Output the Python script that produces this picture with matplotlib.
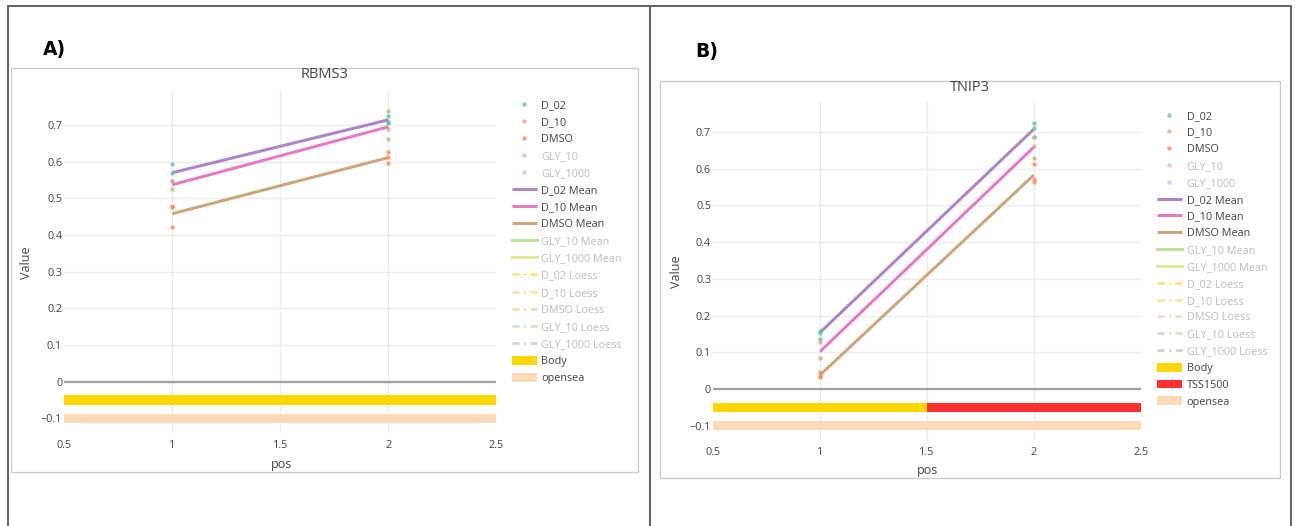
import matplotlib
matplotlib.use("Agg")
import matplotlib.pyplot as plt
from matplotlib.lines import Line2D
from matplotlib.patches import Patch, Rectangle

plt.rcParams["font.family"] = ["Open Sans", "DejaVu Sans"]

W, H = 1298, 526

pos = [1, 2]

# RBMS3: replicate beta values per position, and the group means
rbms3_d02 = [[0.593, 0.570, 0.547], [0.725, 0.708, 0.705]]
rbms3_d10 = [[0.548, 0.526], [0.739, 0.690, 0.661]]
rbms3_dmso = [[0.478, 0.475, 0.422], [0.625, 0.612, 0.596]]
rbms3_d02_mean = [0.570, 0.714]
rbms3_d10_mean = [0.537, 0.695]
rbms3_dmso_mean = [0.458, 0.611]

# TNIP3
tnip3_d02 = [[0.158, 0.153, 0.135], [0.726, 0.712, 0.687]]
tnip3_d10 = [[0.127, 0.084], [0.687, 0.662, 0.630]]
tnip3_dmso = [[0.047, 0.035, 0.032], [0.614, 0.572, 0.565]]
tnip3_d02_mean = [0.154, 0.708]
tnip3_d10_mean = [0.102, 0.659]
tnip3_dmso_mean = [0.038, 0.583]

# annotation tracks (name, start, end)
rbms3_regions = [("Body", 0.5, 2.5), ("opensea", 0.5, 2.5)]
tnip3_regions = [("Body", 0.5, 1.5), ("TSS1500", 1.5, 2.5), ("opensea", 0.5, 2.5)]

groups = ["D_02", "D_10", "DMSO"]
point_colors = {"D_02": "#66c2a5", "D_10": "#c9b48a", "DMSO": "#fc8d62"}
mean_colors = {"D_02": "#ac87c5", "D_10": "#e47cc0", "DMSO": "#c9a77f"}
region_colors = {"Body": "#ffd700", "TSS1500": "#ff3030", "opensea": "#ffdab9"}
region_rows = {"Body": -0.05, "TSS1500": -0.05, "opensea": -0.1}

# hidden traces only show up in the legend
hidden_points = [("GLY_10", "#f2c4d4"), ("GLY_1000", "#c9d3ea")]
hidden_means = [("GLY_10 Mean", "#bfe39a"), ("GLY_1000 Mean", "#e3e89a")]
hidden_loess = [("D_02 Loess", "#ffe680"), ("D_10 Loess", "#ffe2a6"),
                ("DMSO Loess", "#f2dcc4"), ("GLY_10 Loess", "#e4dbd0"),
                ("GLY_1000 Loess", "#d4d4d4")]

TXT = "#444444"
FADED = "#bdbdbd"
FS = 7.8

fig = plt.figure(figsize=(W / 100, H / 100), dpi=100)


def fx(x):
    return x / W


def fy(y):
    return 1 - y / H


def frame(x0, y0, x1, y1, color, lw):
    fig.add_artist(Rectangle((fx(x0), fy(y1)), (x1 - x0) / W, (y1 - y0) / H,
                             transform=fig.transFigure, fill=False,
                             edgecolor=color, lw=lw))


def panel(box, axes_px, ylim, title, title_y, tag, tag_xy, ylab_xy, xlab_xy,
          legend_xy, spacing, points, means, regions):
    frame(*box, color="#cccccc", lw=1.0)
    l, t, r, b = axes_px
    ax = fig.add_axes([fx(l), fy(b), (r - l) / W, (b - t) / H])

    for name, start, end in regions:
        ax.barh(region_rows[name], end - start, left=start, height=0.025,
                color=region_colors[name], zorder=2)
    ax.axhline(0, color="#a0a0a0", lw=1.6, zorder=2)

    handles, labels = [], []
    for g in groups:
        for p, vals in zip(pos, points[g]):
            ax.plot([p] * len(vals), vals, "o", ms=3.2, color=point_colors[g],
                    mec="none", alpha=0.8, zorder=4)
        handles.append(Line2D([], [], ls="none", marker="o", ms=3.2,
                              color=point_colors[g], mec="none", alpha=0.8))
        labels.append(g)
    for name, c in hidden_points:
        handles.append(Line2D([], [], ls="none", marker="o", ms=3.2,
                              color=c, mec="none"))
        labels.append(name)
    for g in groups:
        ln, = ax.plot(pos, means[g], color=mean_colors[g], lw=2.2,
                      solid_capstyle="butt", zorder=3)
        handles.append(ln)
        labels.append(g + " Mean")
    for name, c in hidden_means:
        handles.append(Line2D([], [], color=c, lw=2.2))
        labels.append(name)
    for name, c in hidden_loess:
        handles.append(Line2D([], [], color=c, lw=2.0,
                              ls=(0, (2.6, 1.6, 0.7, 1.6))))
        labels.append(name)
    seen = []
    for name, _, _ in regions:
        if name not in seen:
            seen.append(name)
            handles.append(Patch(facecolor=region_colors[name], edgecolor="none"))
            labels.append(name)

    ax.set_xlim(0.5, 2.5)
    ax.set_ylim(*ylim)
    ax.set_xticks([0.5, 1, 1.5, 2, 2.5])
    ax.set_xticklabels(["0.5", "1", "1.5", "2", "2.5"])
    ax.set_yticks([-0.1, 0, 0.1, 0.2, 0.3, 0.4, 0.5, 0.6, 0.7])
    ax.set_yticklabels(["\u22120.1", "0", "0.1", "0.2", "0.3", "0.4", "0.5", "0.6", "0.7"])
    ax.grid(True, color="#ececec", lw=1.0)
    ax.set_axisbelow(True)
    xg = ax.get_xgridlines()
    xg[0].set_visible(False)
    xg[-1].set_visible(False)
    for s in ax.spines.values():
        s.set_visible(False)
    ax.tick_params(axis="both", length=0, labelsize=FS, colors=TXT)
    ax.tick_params(axis="y", pad=1.5)
    ax.tick_params(axis="x", pad=5)

    leg = ax.legend(handles, labels, loc="upper left",
                    bbox_to_anchor=(fx(legend_xy[0]), fy(legend_xy[1])),
                    bbox_transform=fig.transFigure, frameon=False, fontsize=FS,
                    handlelength=2.3, handleheight=0.9, handletextpad=0.45,
                    labelspacing=spacing, borderpad=0, borderaxespad=0)
    active = set(groups) | {g + " Mean" for g in groups} | set(region_colors)
    for txt in leg.get_texts():
        txt.set_color(TXT if txt.get_text() in active else FADED)

    cx = (box[0] + box[2]) / 2
    fig.text(fx(cx), fy(title_y), title, ha="center", va="center",
             fontsize=10.5, color=TXT)
    fig.text(fx(ylab_xy[0]), fy(ylab_xy[1]), "Value", rotation=90,
             ha="center", va="center", fontsize=9, color=TXT)
    fig.text(fx(xlab_xy[0]), fy(xlab_xy[1]), "pos", ha="center", va="center",
             fontsize=9, color=TXT)
    fig.text(fx(tag_xy[0]), fy(tag_xy[1]), tag, ha="left", va="center",
             fontsize=13.5, fontweight="bold", family="DejaVu Sans",
             color="black")
    return ax


panel(box=(10.7, 68.3, 638.3, 471.7), axes_px=(64.3, 90.9, 496.3, 433.0),
      ylim=(-0.14, 0.793), title="RBMS3", title_y=74.7,
      tag="A)", tag_xy=(43, 49), ylab_xy=(26, 263), xlab_xy=(281, 464.5),
      legend_xy=(511.6, 99.5), spacing=0.54,
      points={"D_02": rbms3_d02, "D_10": rbms3_d10, "DMSO": rbms3_dmso},
      means={"D_02": rbms3_d02_mean, "D_10": rbms3_d10_mean,
             "DMSO": rbms3_dmso_mean},
      regions=rbms3_regions)

panel(box=(660.3, 80.7, 1280.3, 478.0), axes_px=(713.2, 102.0, 1140.7, 439.6),
      ylim=(-0.138, 0.782), title="TNIP3", title_y=87.5,
      tag="B)", tag_xy=(695, 52), ylab_xy=(676, 272), xlab_xy=(928, 470.5),
      legend_xy=(1157, 110.5), spacing=0.515,
      points={"D_02": tnip3_d02, "D_10": tnip3_d10, "DMSO": tnip3_dmso},
      means={"D_02": tnip3_d02_mean, "D_10": tnip3_d10_mean,
             "DMSO": tnip3_dmso_mean},
      regions=tnip3_regions)

# page frame around both panels
frame(8, 6, 1291, 540, color="#555555", lw=1.3)
fig.add_artist(Line2D([fx(650), fx(650)], [fy(6), 0], transform=fig.transFigure,
                      color="#666666", lw=1.5))

fig.savefig("out.png", dpi=100)
